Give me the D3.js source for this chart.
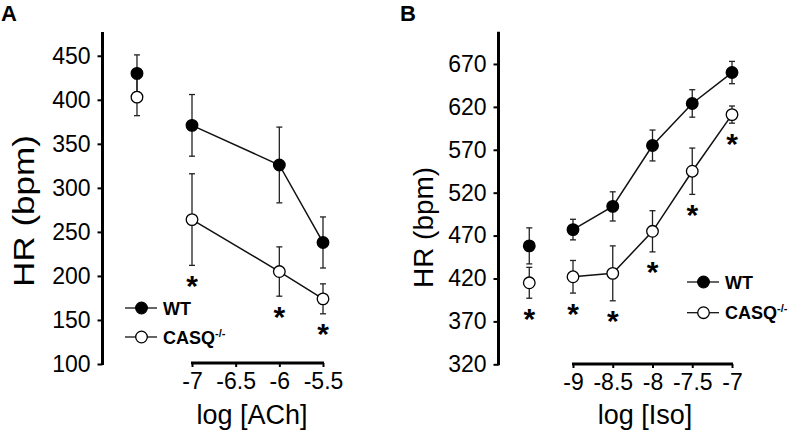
<!DOCTYPE html>
<html><head><meta charset="utf-8">
<script src="https://cdn.jsdelivr.net/npm/d3@7"></script>
<style>
body{margin:0;background:#fff;}
svg{display:block;font-family:"Liberation Sans",Arial,sans-serif;}
</style></head>
<body>
<svg id="chart" width="800" height="432"></svg>
<script>
// ---------- Panel A data (log [ACh]) ----------
const achDoses = [-7, -6, -5.5];
const achBaselineX = -7.63;
const achWT = [371, 326, 238];
const achWTErr = [35, 43, 29];
const achCASQ = [264, 205, 174];
const achCASQErr = [52, 28, 17];
const achWTBase = 430, achWTBaseErr = 21;
const achCASQBase = 403, achCASQBaseErr = 21;
const achStars = [-7, -6, -5.5];
const achXTicks = [-7, -6.5, -6, -5.5];
const achYTicks = [100, 150, 200, 250, 300, 350, 400, 450];

// ---------- Panel B data (log [Iso]) ----------
const isoDoses = [-9, -8.5, -8, -7.5, -7];
const isoBaselineX = -9.55;
const isoWT = [477, 504, 575, 624, 660];
const isoWTErr = [12, 17, 18, 16, 13];
const isoCASQ = [422, 426, 475, 545, 611];
const isoCASQErr = [19, 32, 24, 27, 10];
const isoWTBase = 458, isoWTBaseErr = 21;
const isoCASQBase = 415, isoCASQBaseErr = 18;
const isoStars = ["base", -9, -8.5, -8, -7.5, -7];
const isoXTicks = [-9, -8.5, -8, -7.5, -7];
const isoYTicks = [320, 370, 420, 470, 520, 570, 620, 670];

const seriesNames = ["WT", "CASQ"];

const svg = d3.select("#chart");

function panel(cfg) {
  const g = svg.append("g");
  const x = d3.scaleLinear().domain(cfg.xDomain).range(cfg.xRange);
  const y = d3.scaleLinear().domain(cfg.yDomain).range(cfg.yRange);

  // y axis
  const yAx = g.append("g").attr("transform", `translate(${cfg.yAxisX},0)`)
    .call(d3.axisLeft(y).tickValues(cfg.yTicks).tickSize(5).tickPadding(7).tickSizeOuter(0));
  yAx.select(".domain").remove();
  yAx.append("line").attr("x1", 0).attr("x2", 0)
    .attr("y1", y.range()[1]).attr("y2", y.range()[0] + 1)
    .attr("stroke", "#000").attr("stroke-width", 3);
  yAx.selectAll(".tick line").attr("stroke-width", 2);
  yAx.selectAll(".tick text").attr("font-size", 23).attr("fill", "#000")
    .attr("font-family", "Liberation Sans, Arial, sans-serif");

  // x axis
  const xAx = g.append("g").attr("transform", `translate(0,${cfg.xAxisY})`)
    .call(d3.axisBottom(x).tickValues(cfg.xTicks).tickSize(4).tickPadding(6).tickSizeOuter(0)
      .tickFormat(d => String(d).replace("\u2212", "-")));
  xAx.select(".domain").remove();
  xAx.append("line").attr("x1", x.range()[0] - 1).attr("x2", x.range()[1] + 1)
    .attr("y1", 0).attr("y2", 0).attr("stroke", "#000").attr("stroke-width", 3);
  xAx.selectAll(".tick line").attr("stroke-width", 2);
  xAx.selectAll(".tick text").attr("font-size", 23).attr("fill", "#000")
    .attr("font-family", "Liberation Sans, Arial, sans-serif");

  // axis titles
  g.append("text").attr("x", cfg.xTitleX).attr("y", 424).attr("text-anchor", "middle")
    .attr("font-size", 27).text(cfg.xTitle);
  g.append("text").attr("transform", `translate(${cfg.yTitleX},${cfg.yTitleY}) rotate(-90)`)
    .attr("text-anchor", "middle").attr("font-size", cfg.yTitleSize)
    .attr("textLength", cfg.yTitleLen).attr("lengthAdjust", "spacingAndGlyphs")
    .text("HR (bpm)");

  // panel letter
  g.append("text").attr("x", cfg.letterX).attr("y", 21).attr("font-size", 22)
    .attr("font-weight", "bold").text(cfg.letter);

  const pts = (doses, vals, errs) => doses.map((d, i) => ({x: d, v: vals[i], e: errs[i]}));
  const wt = pts(cfg.doses, cfg.wt, cfg.wtErr);
  const cq = pts(cfg.doses, cfg.cq, cfg.cqErr);
  const wtB = {x: cfg.baseX, v: cfg.wtBase, e: cfg.wtBaseErr};
  const cqB = {x: cfg.baseX, v: cfg.cqBase, e: cfg.cqBaseErr};
  const all = [...wt, ...cq, wtB, cqB];

  // error bars
  const eb = g.append("g").attr("stroke", "#222").attr("stroke-width", 1.3);
  all.forEach(p => {
    const cx = x(p.x);
    eb.append("line").attr("x1", cx).attr("x2", cx).attr("y1", y(p.v + p.e)).attr("y2", y(p.v - p.e));
    [p.v + p.e, p.v - p.e].forEach(v => eb.append("line")
      .attr("x1", cx - 3).attr("x2", cx + 3).attr("y1", y(v)).attr("y2", y(v)));
  });

  // lines
  const line = d3.line().x(d => x(d.x)).y(d => y(d.v));
  [wt, cq].forEach(s => g.append("path").datum(s).attr("d", line)
    .attr("fill", "none").attr("stroke", "#111").attr("stroke-width", 1.5));

  // markers
  const mk = (arr, fill) => g.append("g").selectAll("circle").data(arr).join("circle")
    .attr("cx", d => x(d.x)).attr("cy", d => y(d.v)).attr("r", 5.8)
    .attr("fill", fill).attr("stroke", "#000").attr("stroke-width", 1.3);
  mk([...wt, wtB], "#000");
  mk([...cq, cqB], "#fff");

  // significance stars under CASQ error bars
  const cqByX = new Map(cq.map(p => [p.x, p]));
  cqByX.set("base", cqB);
  cfg.stars.forEach(s => {
    const p = cqByX.get(s);
    g.append("text").attr("x", x(p.x)).attr("y", y(p.v - p.e) + 14 + 16.5)
      .attr("text-anchor", "middle").attr("font-size", 30).attr("font-weight", "bold")
      .text("*");
  });

  // legend
  const lg = g.append("g").attr("transform", `translate(${cfg.legX},${cfg.legY})`);
  seriesNames.forEach((n, i) => {
    const row = lg.append("g").attr("transform", `translate(0,${i * cfg.legGap})`);
    row.append("line").attr("x1", 0).attr("x2", 32).attr("y1", 0).attr("y2", 0)
      .attr("stroke", "#111").attr("stroke-width", 1.3);
    row.append("circle").attr("cx", 16.5).attr("cy", 0).attr("r", 5.8)
      .attr("fill", i === 0 ? "#000" : "#fff").attr("stroke", "#000").attr("stroke-width", 1.3);
    const t = row.append("text").attr("x", 38).attr("y", 6.5).attr("font-size", 18)
      .attr("font-weight", "bold");
    if (i === 0) t.text("WT");
    else {
      t.append("tspan").text("CASQ");
      t.append("tspan").attr("font-size", 11).attr("dy", -7).text("-/-");
    }
  });
}

panel({
  letter: "A", letterX: 1,
  xDomain: [-7, -5.5], xRange: [192, 323],
  yDomain: [100, 477], yRange: [364, 32],
  yAxisX: 102.5, xAxisY: 363,
  xTicks: achXTicks, yTicks: achYTicks,
  xTitle: "log [ACh]", xTitleX: 252,
  yTitleX: 34, yTitleY: 211, yTitleSize: 30, yTitleLen: 152,
  doses: achDoses, wt: achWT, wtErr: achWTErr, cq: achCASQ, cqErr: achCASQErr,
  baseX: achBaselineX, wtBase: achWTBase, wtBaseErr: achWTBaseErr,
  cqBase: achCASQBase, cqBaseErr: achCASQBaseErr,
  stars: achStars,
  legX: 125, legY: 308, legGap: 29
});

panel({
  letter: "B", letterX: 400,
  xDomain: [-9, -7], xRange: [573, 732],
  yDomain: [320, 707.6], yRange: [364.3, 31.7],
  yAxisX: 498.5, xAxisY: 364,
  xTicks: isoXTicks, yTicks: isoYTicks,
  xTitle: "log [Iso]", xTitleX: 645,
  yTitleX: 433, yTitleY: 227.5, yTitleSize: 28, yTitleLen: 121,
  doses: isoDoses, wt: isoWT, wtErr: isoWTErr, cq: isoCASQ, cqErr: isoCASQErr,
  baseX: isoBaselineX, wtBase: isoWTBase, wtBaseErr: isoWTBaseErr,
  cqBase: isoCASQBase, cqBaseErr: isoCASQBaseErr,
  stars: isoStars,
  legX: 687, legY: 282, legGap: 30.7
});
</script>
</body></html>
